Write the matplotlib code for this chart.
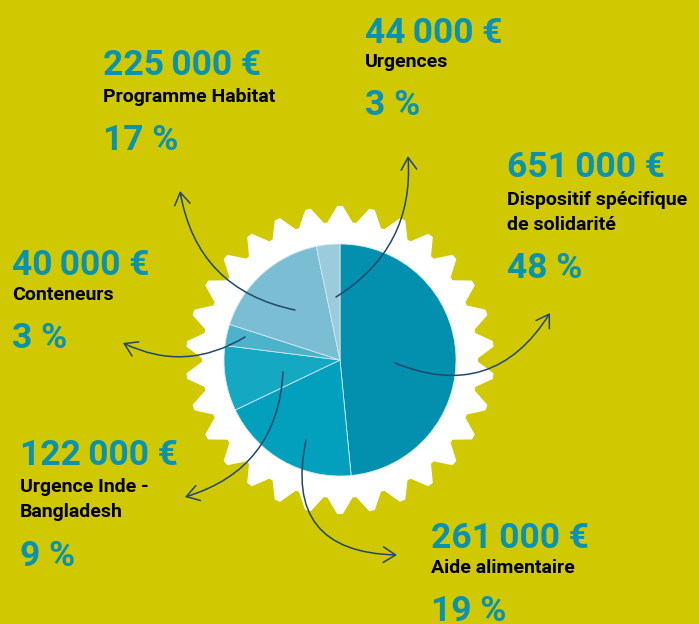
import numpy as np
import matplotlib
matplotlib.use('Agg')
import matplotlib.pyplot as plt
from matplotlib.patches import Polygon, FancyArrowPatch

# Budget data (euros)
labels = ['Dispositif spécifique\nde solidarité', 'Aide alimentaire',
          'Urgence Inde -\nBangladesh', 'Conteneurs', 'Programme Habitat', 'Urgences']
amounts = [651000, 261000, 122000, 40000, 225000, 44000]
amount_text = ['651\u2009000 €', '261\u2009000 €', '122\u2009000 €',
               '40\u2009000 €', '225\u2009000 €', '44\u2009000 €']
percents = ['48 %', '19 %', '9 %', '3 %', '17 %', '3 %']
slice_colors = ['#0290ae', '#02a0bc', '#15a8c3', '#4bb4cb', '#7bbed3', '#9ccbdb']

BG = '#d0c800'
BLUE = '#0a93b0'
NAVY = '#23476b'
W, H = 699, 624

fig = plt.figure(figsize=(W / 100, H / 100), dpi=100, facecolor=BG)
ax = fig.add_axes([0, 0, 1, 1])
ax.set_facecolor(BG)


def yy(y_img):
    # image pixel row -> data y (y up)
    return H - y_img


cx, cy = 340, yy(360)

# white serrated "seal" behind the pie
n_teeth = 30
r_out, r_in = 153, 137
step = 2 * np.pi / n_teeth
pts = []
for k in range(n_teeth):
    a0 = np.pi / 2 - step * 0.5 + k * step
    for frac, r in [(0.0, r_in), (0.08, r_in), (0.43, r_out), (0.57, r_out), (0.92, r_in)]:
        a = a0 + frac * step
        pts.append((cx + r * np.cos(a), cy + r * np.sin(a)))
ax.add_patch(Polygon(pts, closed=True, facecolor='white', edgecolor='white',
                     linewidth=1.5, joinstyle='round', zorder=1))

wedges, _ = ax.pie(amounts, colors=slice_colors, startangle=90, counterclock=False,
                   center=(cx, cy), radius=116,
                   wedgeprops=dict(edgecolor='#cfe9f0', linewidth=0.6))
for w in wedges:
    w.set_zorder(2)

# curved arrows from each slice to its label (start, end in image px, curvature)
arrows = [
    ((395, 363), (550, 313), 0.42),
    ((306, 440), (397, 555), 0.6),
    ((283, 372), (185, 497), -0.35),
    ((245, 337), (123, 343), -0.27),
    ((295, 310), (180, 191), -0.34),
    ((336, 297), (408, 156), 0.3),
]
for (x0, y0), (x1, y1), rad in arrows:
    arr = FancyArrowPatch((x0, yy(y0)), (x1, yy(y1)),
                          connectionstyle=f'arc3,rad={rad}',
                          arrowstyle='->,head_length=0.55,head_width=0.35',
                          mutation_scale=16, color=NAVY, lw=1.1, zorder=3,
                          shrinkA=0, shrinkB=0)
    ax.add_patch(arr)

# label blocks: x, baselines of amount / label lines / percent
num_font = dict(family=['Roboto', 'DejaVu Sans'], weight='bold',
                size=25.5, color=BLUE)
lab_font = dict(family=['Roboto', 'DejaVu Sans'], weight='bold', size=14, color='black')

blocks = [
    (507, 177, [205, 230], 278),
    (431, 548, [573], 621),
    (20, 465, [492, 517], 566),
    (12, 275, [300], 348),
    (103, 75, [102], 150),
    (365, 43, [67], 115),
]
for i, (x, y_amt, y_lab, y_pct) in enumerate(blocks):
    ax.text(x, yy(y_amt), amount_text[i], va='baseline', ha='left', **num_font)
    for line, yl in zip(labels[i].split('\n'), y_lab):
        ax.text(x, yy(yl), line, va='baseline', ha='left', **lab_font)
    ax.text(x, yy(y_pct), percents[i], va='baseline', ha='left', **num_font)

ax.set_xlim(0, W)
ax.set_ylim(0, H)
ax.set_aspect('equal')
ax.axis('off')

fig.savefig('out.png', dpi=100, facecolor=BG)
